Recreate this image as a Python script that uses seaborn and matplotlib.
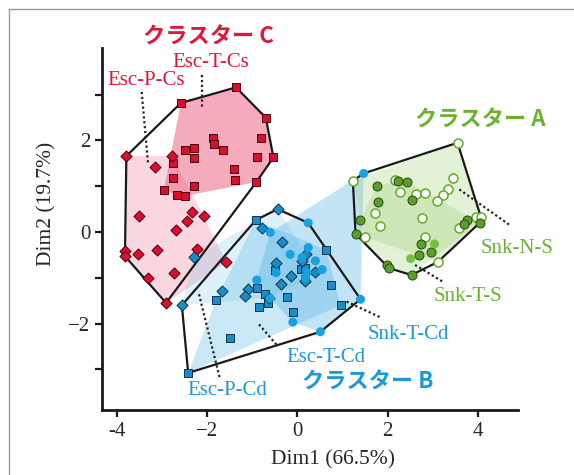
import pandas as pd
import matplotlib
matplotlib.use('Agg')
import matplotlib.pyplot as plt
from matplotlib.lines import Line2D
import seaborn as sns

# 図から読み取った値 (Dim1, Dim2)
esc_t_cs_x = [-1.36, -2.58, -0.70, -0.81, -0.53, -0.91, -1.88, -1.85, -1.64, -2.30, -2.49,
              -2.30, -0.90, -1.41, -1.39, -2.75, -2.75, -2.28, -2.96, -2.66, -2.49]
esc_t_cs_y = [3.16, 2.82, 2.50, 2.05, 1.63, 1.09, 2.05, 1.92, 1.80, 1.84, 1.79,
              1.61, 1.64, 1.37, 1.13, 1.50, 1.17, 1.01, 0.91, 0.81, 0.79]
esc_t_cs_cl = list('CCCCCCCCCCCCCCCCCCCCC')

esc_p_cs_x = [-3.79, -3.15, -2.77, -3.51, -2.33, -2.44, -2.07, -2.69, -3.82, -3.82, -3.54,
              -3.12, -2.23, -3.30, -2.73, -2.91, -1.58]
esc_p_cs_y = [1.66, 1.43, 1.66, 0.35, 0.44, 0.24, 0.34, 0.04, -0.42, -0.53, -0.47,
              -0.39, -0.37, -1.00, -0.90, -1.55, -0.66]
esc_p_cs_cl = list('CCCCCCCCCCCCCCCCB')

esc_t_cd_x = [-0.92, 0.64, -2.42, -1.80, -1.49, -0.86, -0.66, -0.72, -0.90, -0.23, -0.10,
              0.74, 0.96, -0.49, 0.07, 0.16, 0.16]
esc_t_cd_y = [0.26, -0.39, -3.08, -1.49, -2.31, -1.63, -1.56, -1.36, -1.23, -1.42, -1.74,
              -1.15, -1.60, -0.84, -0.80, -0.79, -1.02]
esc_t_cd_cl = list('BBBBBBBBBBBBBBBBB')

esc_p_cd_x = [-0.44, -0.79, -0.34, -0.48, -0.13, -0.36, 0.20, 0.16, -1.67, -1.10, -1.16,
              -0.62, -2.56, -2.29, 0.38, 0.10]
esc_p_cd_y = [0.50, 0.09, -0.22, -0.67, -0.96, -1.13, -0.49, -1.07, -1.29, -1.24, -1.40,
              -1.44, -1.60, -0.55, -0.87, -0.63]
esc_p_cd_cl = list('BBBBBBBBBBBBBCBB')

snk_t_cd_x = [0.24, -0.60, 1.40, 0.51, -0.10, -0.90, -0.47, 0.10, 0.40, 0.55, 0.21,
              0.18, -0.16, 0.24, -0.60, 1.47]
snk_t_cd_y = [0.20, -0.01, -1.47, -2.18, -1.97, -1.05, -0.89, -0.56, -0.63, -0.82, -0.89,
              -1.00, -0.49, -0.34, -1.45, 1.28]
snk_t_cd_cl = list('BBBBBBBBBBBBBBBA')

snk_n_s_x = [3.55, 1.23, 2.16, 3.44, 2.27, 2.64, 2.84, 3.33, 3.23, 3.10, 1.71, 1.84,
             2.77, 1.50, 2.82, 3.59, 3.97, 4.07, 3.12]
snk_n_s_y = [1.95, 1.12, 1.14, 1.17, 0.88, 0.84, 0.86, 0.93, 0.80, 0.68, 0.41, 0.13,
             0.31, -0.12, -0.12, 0.08, 0.33, 0.32, -0.65]
snk_n_s_cl = list('AAAAAAAAAAAAAAAAAAA')

snk_t_s_x = [1.76, 2.24, 2.44, 1.79, 2.53, 1.39, 1.29, 3.77, 3.70, 4.04, 2.73, 2.96,
             2.70, 1.99, 2.03, 2.53, 3.04, 2.51]
snk_t_s_y = [1.01, 1.12, 1.10, 0.66, 0.70, 0.26, -0.04, 0.26, 0.17, 0.20, -0.26, -0.44,
             -0.51, -0.72, -0.79, -0.94, -0.26, -0.58]
snk_t_s_cl = list('AAAAAAAAAAAAAAAAAA')
snk_t_s_light = [0] * 16 + [1, 1]   # 明るい緑の2点

groups = ['Esc-T-Cs', 'Esc-P-Cs', 'Esc-T-Cd', 'Esc-P-Cd', 'Snk-T-Cd', 'Snk-N-S', 'Snk-T-S']

RED = '#e2163d'
BLUE = '#1c9ad8'
GREEN = '#6cb22e'

style = {
    # marker, face, edge, size, hull fill, hull alpha
    'Esc-T-Cs': ('s', '#d8102c', '#4a0010', 40, '#e8456a', 0.45),
    'Esc-P-Cs': ('D', '#d8102c', '#4a0010', 32, '#ee6f8c', 0.28),
    'Esc-T-Cd': ('s', '#1b8cc8', '#0b3550', 40, '#55b5e6', 0.30),
    'Esc-P-Cd': ('D', '#1b8cc8', '#0b3550', 32, '#6cc0ea', 0.22),
    'Snk-T-Cd': ('o', '#1a9fe0', 'none', 42, '#3aa8e0', 0.30),
    'Snk-N-S': ('o', 'white', '#62ad25', 42, '#9ccd6e', 0.28),
    'Snk-T-S': ('o', '#5a9e2c', '#234a0c', 42, '#9ccd6e', 0.28),
}

label_specs = [
    # text, colour, text x, text y, line from, line to
    ('Esc-T-Cs', RED, -1.92, 3.70, (-2.12, 3.43), (-2.12, 2.74)),
    ('Esc-P-Cs', RED, -3.36, 3.31, (-3.45, 3.06), (-3.31, 1.50)),
    ('Snk-N-S', GREEN, 4.88, -0.37, (3.59, 0.93), (4.71, 0.15)),
    ('Snk-T-S', GREEN, 3.77, -1.40, (2.61, -0.72), (3.23, -1.09)),
    ('Snk-T-Cd', BLUE, 2.45, -2.23, (1.09, -1.52), (1.83, -1.86)),
    ('Esc-T-Cd', BLUE, 0.63, -2.75, (-0.85, -2.02), (-0.43, -2.50)),
    ('Esc-P-Cd', BLUE, -1.55, -3.47, (-2.18, -1.36), (-1.72, -3.19)),
]

cluster_titles = [('クラスター C', RED, -1.96, 4.26),
                  ('クラスター A', GREEN, 4.05, 2.45),
                  ('クラスター B', BLUE, 1.55, -3.28)]


def convex_hull(xs, ys):
    pts = sorted(set(zip(xs, ys)))
    if len(pts) < 3:
        return pts

    def cross(o, a, b):
        return (a[0] - o[0]) * (b[1] - o[1]) - (a[1] - o[1]) * (b[0] - o[0])

    lower = []
    for p in pts:
        while len(lower) >= 2 and cross(lower[-2], lower[-1], p) <= 0:
            lower.pop()
        lower.append(p)
    upper = []
    for p in reversed(pts):
        while len(upper) >= 2 and cross(upper[-2], upper[-1], p) <= 0:
            upper.pop()
        upper.append(p)
    return lower[:-1] + upper[:-1]


raw = {
    'Esc-T-Cs': (esc_t_cs_x, esc_t_cs_y, esc_t_cs_cl),
    'Esc-P-Cs': (esc_p_cs_x, esc_p_cs_y, esc_p_cs_cl),
    'Esc-T-Cd': (esc_t_cd_x, esc_t_cd_y, esc_t_cd_cl),
    'Esc-P-Cd': (esc_p_cd_x, esc_p_cd_y, esc_p_cd_cl),
    'Snk-T-Cd': (snk_t_cd_x, snk_t_cd_y, snk_t_cd_cl),
    'Snk-N-S': (snk_n_s_x, snk_n_s_y, snk_n_s_cl),
    'Snk-T-S': (snk_t_s_x, snk_t_s_y, snk_t_s_cl),
}
frames = []
for g in groups:
    x, y, cl = raw[g]
    frames.append(pd.DataFrame({'Dim1': x, 'Dim2': y, 'cluster': cl, 'group': g}))
df = pd.concat(frames, ignore_index=True)
df['light'] = 0
df.loc[df['group'] == 'Snk-T-S', 'light'] = snk_t_s_light

sns.set_style('ticks')
plt.rcParams['font.family'] = ['Liberation Serif', 'DejaVu Serif']

fig = plt.figure(figsize=(5.74, 4.75), dpi=100)
ax = fig.add_axes([0.1777, 0.1368, 0.7247, 0.7621])

# グループごとの凸包 (塗りつぶし)
for g in groups:
    sub = df[df['group'] == g]
    hull = convex_hull(sub['Dim1'], sub['Dim2'])
    hx, hy = zip(*hull)
    ax.fill(hx, hy, color=style[g][4], alpha=style[g][5], lw=0, zorder=1)

# クラスターの外枠
for c in ['A', 'B', 'C']:
    sub = df[df['cluster'] == c]
    hull = convex_hull(sub['Dim1'], sub['Dim2'])
    hx, hy = zip(*(hull + hull[:1]))
    ax.plot(hx, hy, color='#1a1a1a', lw=1.6, zorder=2, solid_joinstyle='miter')

# 点
for g in groups:
    sub = df[(df['group'] == g) & (df['light'] == 0)]
    m, fc, ec, s = style[g][:4]
    lw = 1.1 if g == 'Snk-N-S' else 0.7
    sns.scatterplot(data=sub, x='Dim1', y='Dim2', marker=m, color=fc, edgecolor=ec,
                    s=s, linewidth=lw, ax=ax, zorder=3, legend=False)
light = df[df['light'] == 1]
sns.scatterplot(data=light, x='Dim1', y='Dim2', color='#72c23a', edgecolor='none',
                s=42, ax=ax, zorder=3, legend=False)

# ラベルと点線
for text, col, tx, ty, p0, p1 in label_specs:
    ax.text(tx, ty, text, color=col, fontsize=15, ha='center', va='center', zorder=4)
    ax.plot([p0[0], p1[0]], [p0[1], p1[1]], color='#222222', ls=(0, (1, 1.2)), lw=1.6, zorder=4)

for text, col, tx, ty in cluster_titles:
    ax.text(tx, ty, text, color=col, fontsize=16, fontweight='bold', ha='center', va='center',
            family=['Noto Sans CJK JP', 'DejaVu Sans'], zorder=4, clip_on=False)

ax.set_xlim(-4.33, 4.89)
ax.set_ylim(-3.89, 4.02)
ax.set_xticks([-4, -2, 0, 2, 4])
ax.set_xticklabels(['-4', '\u22122', '0', '2', '4'])
ax.set_yticks([-2, 0, 2])
ax.set_yticklabels(['\u22122', '0', '2'])
ax.set_yticks([-3, -1, 1, 3], minor=True)
ax.tick_params(axis='both', which='major', labelsize=15, width=1.6, length=5, color='#1a1a1a')
ax.tick_params(axis='y', which='minor', width=1.6, length=5, color='#1a1a1a')
ax.set_xlabel('Dim1 (66.5%)', fontsize=15.5)
ax.set_ylabel('Dim2 (19.7%)', fontsize=15.5)
ax.xaxis.set_label_coords(0.555, -0.11)
ax.yaxis.set_label_coords(-0.11, 0.57)
for side in ['top', 'right']:
    ax.spines[side].set_visible(False)
for side in ['left', 'bottom']:
    ax.spines[side].set_linewidth(2)
    ax.spines[side].set_color('#1a1a1a')

# 外側の枠線
fig.add_artist(Line2D([8.5 / 574, 8.5 / 574], [0, 1 - 9 / 475], color='#999999', lw=1))
fig.add_artist(Line2D([8.5 / 574, 1], [1 - 9 / 475, 1 - 9 / 475], color='#999999', lw=1))

fig.savefig('out.png', dpi=100)
